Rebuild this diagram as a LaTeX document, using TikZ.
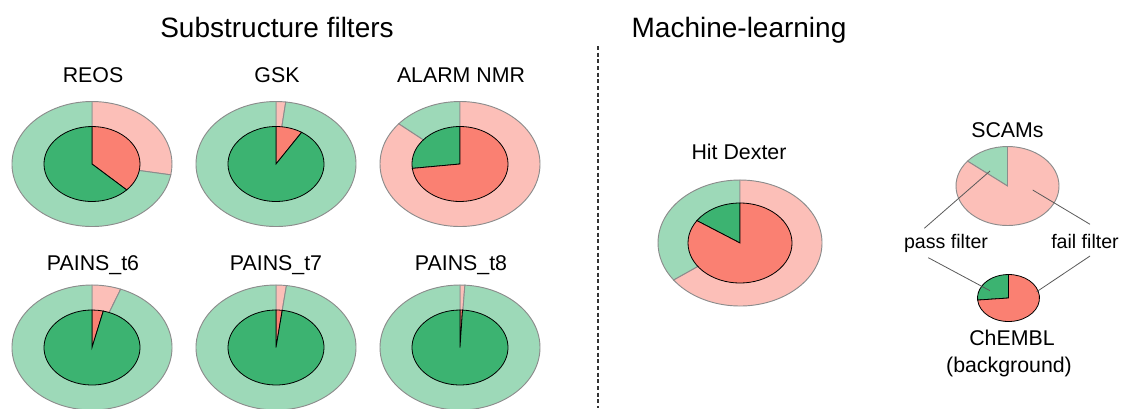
\documentclass[tikz,border=0pt]{standalone}
\usepackage{fontspec}
\setmainfont{Liberation Sans}
\begin{document}
\begin{tikzpicture}[x=0.75pt,y=0.75pt,
  titletext/.style={font=\fontsize{21}{25}\selectfont, anchor=base, inner sep=0pt},
  labeltext/.style={font=\fontsize{16}{19}\selectfont, anchor=base, inner sep=0pt},
  smalltext/.style={font=\fontsize{14.7}{18}\selectfont, anchor=base, inner sep=0pt},
  leader/.style={draw=black!65, line width=0.6pt},
  ringedge/.style={draw=black!45, line width=0.7pt},
  coreedge/.style={draw=black, line width=0.6pt}]
\definecolor{passdark}{RGB}{60,179,113}
\definecolor{passlight}{RGB}{157,217,184}
\definecolor{faildark}{RGB}{250,128,114}
\definecolor{faillight}{RGB}{252,191,184}

% sector: centre, x radius, y radius, start angle, end angle, style
\newcommand\sector[6]{%
  \path[#6] (#1) -- +(#4:#2 and #3)
    arc[start angle=#4, end angle=#5, x radius=#2, y radius=#3] -- cycle;}

\path[use as bounding box] (0,0) rectangle (1123,-408);

% section headings
\node[titletext] (subTitle) at (277,-37) {Substructure filters};
\node[titletext] (mlTitle) at (739,-37) {Machine-learning};
\coordinate (sepTop) at (598,-46);
\coordinate (sepBot) at (598,-408);
\draw[black!80, line width=0.8pt, dash pattern=on 3pt off 2pt] (sepTop) -- (sepBot);

% pie centres
\coordinate (reos) at (92,-164);
\coordinate (gsk) at (276,-164);
\coordinate (alarm) at (460,-164);
\coordinate (tsix) at (92,-347.5);
\coordinate (tseven) at (276,-347.5);
\coordinate (teight) at (460,-347.5);
\coordinate (hitdex) at (740,-243);
\coordinate (scams) at (1007.5,-186);
\coordinate (chembl) at (1008.5,-298);

% labels
\node[labeltext] (reosLbl) at (93,-82) {REOS};
\node[labeltext] (gskLbl) at (277,-82) {GSK};
\node[labeltext] (alarmLbl) at (461,-82) {ALARM NMR};
\node[labeltext] (tsixLbl) at (93,-270) {PAINS\_t6};
\node[labeltext] (tsevenLbl) at (276,-270) {PAINS\_t7};
\node[labeltext] (teightLbl) at (461,-270) {PAINS\_t8};
\node[labeltext] (hitdexLbl) at (739,-159.5) {Hit Dexter};
\node[labeltext] (scamsLbl) at (1007.5,-137.5) {SCAMs};
\node[smalltext] (passLbl) at (946,-248.5) {pass filter};
\node[smalltext] (failLbl) at (1085,-248.5) {fail filter};
\node[labeltext] (chemblLbl) at (1012,-345) {ChEMBL};
\node[labeltext] (bgLbl) at (1009,-372) {(background)};

% REOS
\sector{reos}{80}{62.5}{90}{-10}{fill=faillight, ringedge}
\sector{reos}{80}{62.5}{-10}{-270}{fill=passlight, ringedge}
\sector{reos}{48}{37.5}{90}{-43.7}{fill=faildark, coreedge}
\sector{reos}{48}{37.5}{-43.7}{-270}{fill=passdark, coreedge}
% GSK
\sector{gsk}{80}{62.5}{90}{83}{fill=faillight, ringedge}
\sector{gsk}{80}{62.5}{83}{-270}{fill=passlight, ringedge}
\sector{gsk}{48}{37.5}{90}{57.7}{fill=faildark, coreedge}
\sector{gsk}{48}{37.5}{57.7}{-270}{fill=passdark, coreedge}
% ALARM NMR
\sector{alarm}{80}{62.5}{90}{140}{fill=passlight, ringedge}
\sector{alarm}{80}{62.5}{140}{450}{fill=faillight, ringedge}
\sector{alarm}{48}{37.5}{90}{186.7}{fill=passdark, coreedge}
\sector{alarm}{48}{37.5}{186.7}{450}{fill=faildark, coreedge}
% PAINS_t6
\sector{tsix}{80}{62.5}{90}{69}{fill=faillight, ringedge}
\sector{tsix}{80}{62.5}{69}{-270}{fill=passlight, ringedge}
\sector{tsix}{48}{37.5}{90}{76.4}{fill=faildark, coreedge}
\sector{tsix}{48}{37.5}{76.4}{-270}{fill=passdark, coreedge}
% PAINS_t7
\sector{tseven}{80}{62.5}{90}{82.5}{fill=faillight, ringedge}
\sector{tseven}{80}{62.5}{82.5}{-270}{fill=passlight, ringedge}
\sector{tseven}{48}{37.5}{90}{82.5}{fill=faildark, coreedge}
\sector{tseven}{48}{37.5}{82.5}{-270}{fill=passdark, coreedge}
% PAINS_t8
\sector{teight}{80}{62.5}{90}{86.5}{fill=faillight, ringedge}
\sector{teight}{80}{62.5}{86.5}{-270}{fill=passlight, ringedge}
\sector{teight}{48}{37.5}{90}{87}{fill=faildark, coreedge}
\sector{teight}{48}{37.5}{87}{-270}{fill=passdark, coreedge}
% Hit Dexter
\sector{hitdex}{82}{63}{90}{216}{fill=passlight, ringedge}
\sector{hitdex}{82}{63}{216}{450}{fill=faillight, ringedge}
\sector{hitdex}{52}{40}{90}{146}{fill=passdark, coreedge}
\sector{hitdex}{52}{40}{146}{450}{fill=faildark, coreedge}
% SCAMs
\sector{scams}{51.5}{39.5}{90}{141}{fill=passlight, ringedge}
\sector{scams}{51.5}{39.5}{141}{450}{fill=faillight, ringedge}
% ChEMBL
\sector{chembl}{31}{23.5}{90}{185}{fill=passdark, coreedge}
\sector{chembl}{31}{23.5}{185}{450}{fill=faildark, coreedge}

% leader lines
\coordinate (passUpA) at (924.3,-228.3);
\coordinate (passUpB) at (990,-171);
\coordinate (failUpA) at (1090,-224.3);
\coordinate (failUpB) at (1032.7,-190);
\coordinate (passLoA) at (928.3,-257.7);
\coordinate (passLoB) at (990,-290.7);
\coordinate (failLoA) at (1090,-256);
\coordinate (failLoB) at (1036.7,-291.7);
\draw[leader] (passUpA) -- (passUpB);
\draw[leader] (failUpA) -- (failUpB);
\draw[leader] (passLoA) -- (passLoB);
\draw[leader] (failLoA) -- (failLoB);
\end{tikzpicture}
\end{document}
